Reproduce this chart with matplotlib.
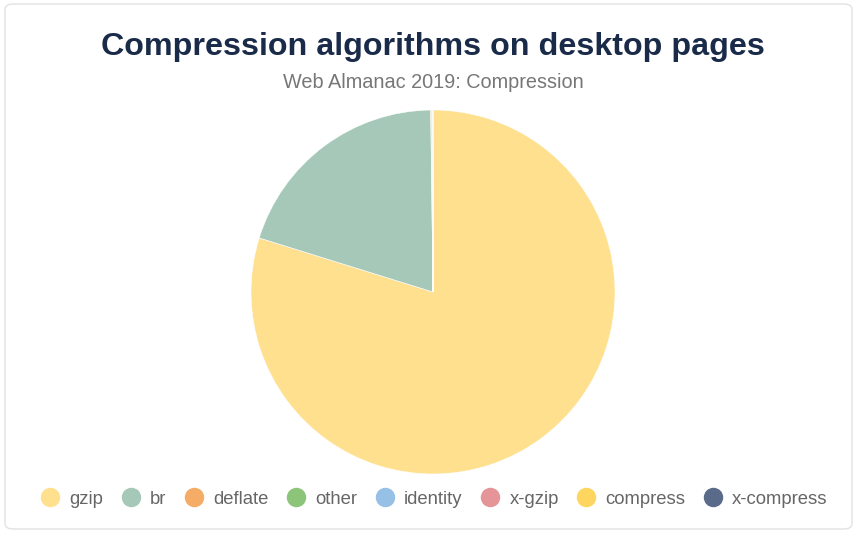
import matplotlib
matplotlib.use("Agg")
import matplotlib.pyplot as plt
from matplotlib.lines import Line2D
from matplotlib.patches import FancyBboxPatch

# data (share of desktop responses, %)
labels = ["gzip", "br", "deflate", "other", "identity", "x-gzip", "compress", "x-compress"]
shares = [79.8, 20.0, 0.08, 0.05, 0.03, 0.02, 0.01, 0.01]
colors = ["#fee08f", "#a6c8b8", "#f4ac66", "#8cc579", "#97c0e6", "#e59597", "#fdd55f", "#5a6a89"]

W, H = 859, 533
fig = plt.figure(figsize=(W/100, H/100), dpi=100)
fig.patch.set_facecolor("white")

# faint card border
fig.patches.append(FancyBboxPatch((5/W, 4/H), (W-12)/W, (H-8)/H,
    boxstyle="round,pad=0,rounding_size=0.01", transform=fig.transFigure,
    fc="none", ec="#e2e2e2", lw=1))

fig.text(433/W, 1-47/H, "Compression algorithms on desktop pages", ha="center", va="center",
         fontsize=23.2, fontweight="bold", color="#1a2b49", family="Liberation Sans")
fig.text(433/W, 1-82/H, "Web Almanac 2019: Compression", ha="center", va="center",
         fontsize=14.3, color="#777777", family="Liberation Sans")

cx, cy, r = 433, 292, 182
ax = fig.add_axes([(cx-r)/W, (H-cy-r)/H, 2*r/W, 2*r/H])
ax.pie(shares, colors=colors, startangle=90, counterclock=False,
       wedgeprops=dict(linewidth=0.4, edgecolor="white"))
ax.set_xlim(-1, 1)
ax.set_ylim(-1, 1)
ax.set_aspect("equal")

handles = [Line2D([], [], marker="o", ls="", markersize=13, markerfacecolor=c,
                  markeredgecolor=c) for c in colors]
fig.legend(handles, labels, loc="center", bbox_to_anchor=(433/W, 1-499/H), ncol=8,
           frameon=False, handletextpad=0.4, columnspacing=0.83, handlelength=1.3,
           prop=dict(family="Liberation Sans", size=13.3), labelcolor="#666666")

fig.savefig("out.png", dpi=100, facecolor="white")
